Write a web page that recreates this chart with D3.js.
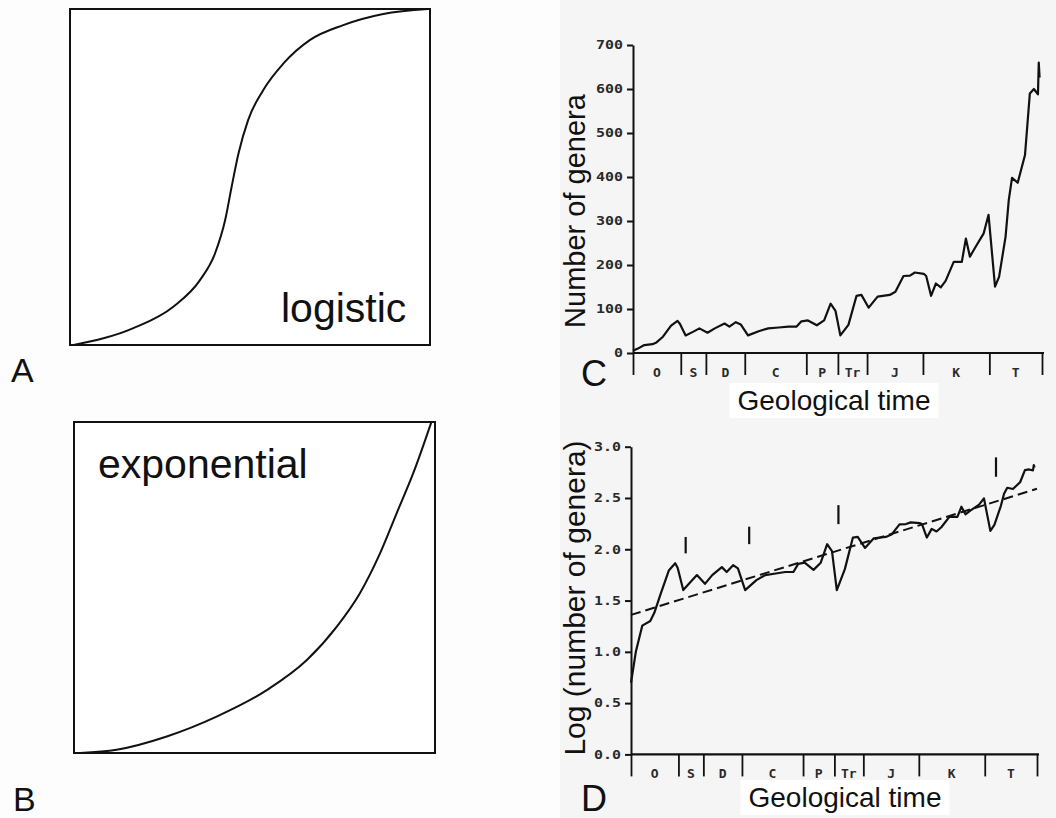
<!DOCTYPE html>
<html>
<head>
<meta charset="utf-8">
<script src="https://cdn.jsdelivr.net/npm/d3@7"></script>
<style>
body { margin: 0; background: #fff; }
svg { display: block; }
</style>
</head>
<body>
<svg id="chart" width="1056" height="818"></svg>
<script>
// sketch curves for A and B, in box units (0..1)
var logisticPts = [[0.01, 0], [0.176, 0.05], [0.287, 0.114], [0.361, 0.193], [0.403, 0.273], [0.431, 0.372],
    [0.449, 0.471], [0.468, 0.57], [0.495, 0.67], [0.537, 0.759], [0.593, 0.838], [0.667, 0.908],
    [0.759, 0.952], [0.87, 0.985], [0.995, 1]];
var exponentialPts = [[0.017, 0], [0.118, 0.01], [0.257, 0.05], [0.395, 0.11], [0.534, 0.19], [0.645, 0.281],
    [0.728, 0.382], [0.792, 0.483], [0.848, 0.604], [0.894, 0.725], [0.94, 0.846], [0.99, 1]];

// geological periods (boundaries in Ma)
var periodNames = ["O", "S", "D", "C", "P", "Tr", "J", "K", "T"];
var periodBounds = [505, 446, 415, 367, 291, 252, 216, 147, 65, 0];

// genera through time
var timeMa = [505, 499, 491, 481, 476, 468, 458, 450, 447, 440, 431, 423, 413, 404, 392, 386, 378, 372,
    363, 349, 338, 325, 313, 303, 297, 289, 278, 269, 261, 255, 249, 239, 229, 223, 214, 203, 188, 181,
    171, 163, 157, 146, 143, 137, 131, 125, 119, 109, 99, 94, 89, 83, 72, 66, 58, 53, 45, 41, 37, 30,
    21, 15, 10, 5, 4, 3];
var genera = [5, 10, 18, 20, 24, 37, 62, 73, 66, 40, 48, 56, 46, 56, 67, 60, 70, 65,
    40, 50, 56, 58, 60, 60, 72, 74, 63, 74, 112, 96, 40, 64, 130, 132, 103, 128, 132, 139,
    175, 176, 183, 180, 175, 130, 158, 149, 164, 207, 207, 260, 219, 238, 272, 314, 151, 173, 264, 348, 398, 387,
    450, 590, 600, 588, 660, 626];

var generaTicks = [0, 100, 200, 300, 400, 500, 600, 700];
var logTicks = [0, 0.5, 1, 1.5, 2, 2.5, 3];

// fitted trend (log units at 505 Ma and 0 Ma)
var trendMa = [505, 0];
var trendLog = [1.36, 2.59];

// extinction markers
var extinctionMa = [437, 358, 247, 51];
var extinctionLow = [1.96, 2.05, 2.245, 2.707];
var extinctionHigh = [2.12, 2.22, 2.43, 2.896];

var svg = d3.select("#chart");
var sansFont = "'Liberation Sans', Arial, Helvetica, sans-serif";
var plotFont = "'DejaVu Sans Mono', monospace";

svg.append("rect").attr("x", 0).attr("y", 0).attr("width", 1056).attr("height", 818).attr("fill", "#fdfdfd");
svg.append("rect").attr("x", 560).attr("y", 0).attr("width", 496).attr("height", 818).attr("fill", "#f5f5f5");

// ---- A and B sketches
function sketch(box, pts, label, lx, ly) {
    var x = d3.scaleLinear().domain([0, 1]).range([box.x0, box.x1]);
    var y = d3.scaleLinear().domain([0, 1]).range([box.y1, box.y0]);
    var g = svg.append("g");
    g.append("rect")
        .attr("x", box.x0).attr("y", box.y0)
        .attr("width", box.x1 - box.x0).attr("height", box.y1 - box.y0)
        .attr("fill", "#fff").attr("stroke", "#111").attr("stroke-width", 2);
    g.append("path")
        .datum(pts)
        .attr("d", d3.line().x(function (d) { return x(d[0]); }).y(function (d) { return y(d[1]); })
            .curve(d3.curveMonotoneX))
        .attr("fill", "none").attr("stroke", "#111").attr("stroke-width", 2);
    g.append("text")
        .attr("x", lx).attr("y", ly)
        .style("font-family", sansFont).style("font-size", "41px").attr("fill", "#111")
        .text(label);
}
sketch({ x0: 70, x1: 430, y0: 9, y1: 345 }, logisticPts, "logistic", 281, 322);
sketch({ x0: 74, x1: 435, y0: 422, y1: 753 }, exponentialPts, "exponential", 98, 478);

// ---- C and D panels
function panel(cfg) {
    var x = d3.scaleLinear().domain([505, 0]).range([cfg.left, cfg.right]);
    var y = d3.scaleLinear().domain(cfg.yDomain).range([cfg.bottom, cfg.top]);
    var g = svg.append("g");

    // y axis
    var yAxis = g.append("g")
        .attr("transform", "translate(" + x(505) + ",0)")
        .call(d3.axisLeft(y).tickValues(cfg.ticks).tickSize(6).tickSizeOuter(0).tickPadding(4)
            .tickFormat(cfg.fmt));
    yAxis.selectAll("path, line").attr("stroke", "#111").attr("stroke-width", 2);
    yAxis.selectAll("text")
        .style("font-family", plotFont).style("font-size", "12px").style("font-weight", "bold")
        .attr("fill", "#2a2a2a")
        .attr("textLength", function (d) { return cfg.fmt(d).length * 9; })
        .attr("lengthAdjust", "spacingAndGlyphs");

    // period axis
    var xAxis = g.append("g")
        .attr("transform", "translate(0," + cfg.bottom + ")")
        .call(d3.axisBottom(x).tickValues(periodBounds).tickSize(22).tickSizeOuter(0).tickFormat(""));
    xAxis.select(".domain").attr("stroke", "#111").attr("stroke-width", 2.2)
        .attr("d", "M" + x(505) + ",0H" + (x(0) + 2));
    xAxis.selectAll("line").attr("stroke", "#111").attr("stroke-width", 1.8);

    g.selectAll(".period")
        .data(periodNames)
        .enter().append("text")
        .attr("class", "period")
        .attr("x", function (d, i) { return x((periodBounds[i] + periodBounds[i + 1]) / 2); })
        .attr("y", cfg.bottom + 24)
        .attr("text-anchor", "middle")
        .style("font-family", plotFont).style("font-size", "13px").style("font-weight", "bold")
        .attr("fill", "#2a2a2a")
        .text(function (d) { return d; });

    // series
    var pts = timeMa.map(function (t, i) { return [t, cfg.value(genera[i])]; });
    g.append("path")
        .datum(pts)
        .attr("d", d3.line().x(function (d) { return x(d[0]); }).y(function (d) { return y(d[1]); }))
        .attr("fill", "none").attr("stroke", "#111").attr("stroke-width", 2.2)
        .attr("stroke-linejoin", "round");

    if (cfg.trend) {
        g.append("path")
            .datum(trendMa.map(function (t, i) { return [t, trendLog[i]]; }))
            .attr("d", d3.line().x(function (d) { return x(d[0]); }).y(function (d) { return y(d[1]); }))
            .attr("fill", "none").attr("stroke", "#111").attr("stroke-width", 2)
            .attr("stroke-dasharray", "10,5");
        g.selectAll(".ext")
            .data(extinctionMa)
            .enter().append("line")
            .attr("class", "ext")
            .attr("x1", function (d) { return x(d); }).attr("x2", function (d) { return x(d); })
            .attr("y1", function (d, i) { return y(extinctionLow[i]); })
            .attr("y2", function (d, i) { return y(extinctionHigh[i]); })
            .attr("stroke", "#111").attr("stroke-width", 2.2);
    }

    // axis titles
    var bg = g.append("rect").attr("fill", "#fff");
    var t = g.append("text")
        .attr("x", cfg.xTitleX).attr("y", cfg.xTitleY)
        .attr("text-anchor", "middle")
        .style("font-family", sansFont).style("font-size", "28px").attr("fill", "#111")
        .text("Geological time");
    var bb = t.node().getBBox();
    bg.attr("x", bb.x - 8).attr("y", bb.y - 2).attr("width", bb.width + 16).attr("height", bb.height + 4);

    g.append("text")
        .attr("transform", "translate(" + cfg.yTitleX + "," + cfg.yTitleY + ") rotate(-90)")
        .attr("text-anchor", "middle")
        .style("font-family", sansFont).style("font-size", cfg.yTitleSize).attr("fill", "#111")
        .text(cfg.yTitle);

    g.append("text")
        .attr("x", cfg.letterX).attr("y", cfg.letterY)
        .style("font-family", sansFont).style("font-size", "36px").attr("fill", "#111")
        .text(cfg.letter);
}

panel({
    left: 633, right: 1042, top: 45, bottom: 353,
    yDomain: [0, 700], ticks: generaTicks, fmt: d3.format("d"),
    value: function (v) { return v; }, trend: false,
    xTitleX: 834, xTitleY: 410,
    yTitle: "Number of genera", yTitleX: 585, yTitleY: 211, yTitleSize: "29px",
    letter: "C", letterX: 581, letterY: 386
});
panel({
    left: 631, right: 1037, top: 446.7, bottom: 754.4,
    yDomain: [0, 3], ticks: logTicks, fmt: d3.format(".1f"),
    value: function (v) { return Math.log10(v); }, trend: true,
    xTitleX: 845, xTitleY: 807,
    yTitle: "Log (number of genera)", yTitleX: 585, yTitleY: 598, yTitleSize: "30px",
    letter: "D", letterX: 581, letterY: 811
});

// panel letters A, B
svg.append("text").attr("x", 11).attr("y", 382)
    .style("font-family", sansFont).style("font-size", "34px").attr("fill", "#111").text("A");
svg.append("text").attr("x", 13).attr("y", 811)
    .style("font-family", sansFont).style("font-size", "34px").attr("fill", "#111").text("B");
</script>
</body>
</html>
